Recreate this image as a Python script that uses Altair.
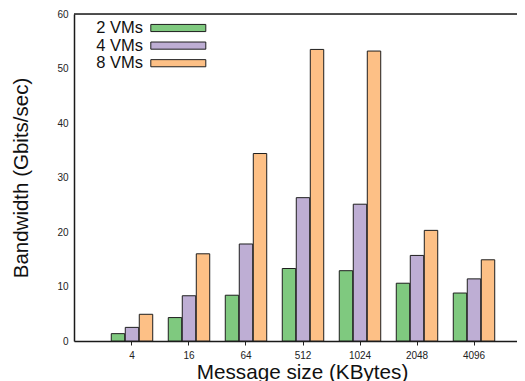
import altair as alt
import pandas as pd

sizes = ["4", "16", "64", "512", "1024", "2048", "4096"]
series = ["2 VMs", "4 VMs", "8 VMs"]
vm2 = [1.35, 4.3, 8.4, 13.3, 12.9, 10.6, 8.8]
vm4 = [2.5, 8.3, 17.8, 26.3, 25.1, 15.7, 11.4]
vm8 = [4.9, 16.0, 34.4, 53.5, 53.2, 20.3, 14.9]
colors = ["#7fc97f", "#beaed4", "#fdc086"]
y_top = [60]

rows = []
for s, vals in zip(series, [vm2, vm4, vm8]):
    for size, v in zip(sizes, vals):
        rows.append({"size": size, "series": s, "bw": v})
df = pd.DataFrame(rows)
legend_df = pd.DataFrame({"series": series})
top_df = pd.DataFrame({"bw": y_top})

FONT = "Liberation Sans"
W, H = 443, 327
color_scale = alt.Scale(domain=series, range=colors)
y_scale = alt.Scale(domain=[0, 60], nice=False)
x_scale = alt.Scale(range=[0, 458], paddingInner=0, paddingOuter=0.5175)

bars = alt.Chart(df).mark_bar(stroke="#1e1e1e", strokeWidth=1).encode(
    x=alt.X("size:N", sort=sizes, scale=x_scale,
            axis=alt.Axis(title="Message size (KBytes)", labelAngle=0,
                          labelFont=FONT, labelFontSize=10, labelColor="#222",
                          labelPadding=5, tickSize=4, tickColor="#222", tickWidth=1,
                          domainColor="#1a1a1a", domainWidth=1.5,
                          titleFont=FONT, titleFontSize=20.7, titleFontWeight="normal",
                          titleColor="#111", titleBaseline="alphabetic",
                          titleX=228, titleY=37, titleAlign="center")),
    xOffset=alt.XOffset("series:N", sort=series,
                        scale=alt.Scale(paddingInner=0.04, paddingOuter=0.555)),
    y=alt.Y("bw:Q", scale=y_scale,
            axis=alt.Axis(title="Bandwidth (Gbits/sec)", values=[0, 10, 20, 30, 40, 50, 60],
                          grid=False, ticks=False, labelPadding=6,
                          labelFont=FONT, labelFontSize=10, labelColor="#222",
                          domainColor="#1a1a1a", domainWidth=1.5,
                          titleFont=FONT, titleFontSize=20.5, titleFontWeight="normal",
                          titleColor="#111", titleAngle=270, titleBaseline="alphabetic",
                          titleAlign="center", titleX=-46.7, titleY=163.5)),
    color=alt.Color("series:N", sort=series, scale=color_scale, legend=None),
)

top = alt.Chart(top_df).mark_rect(color="#1a1a1a", height=1.6).encode(
    x=alt.value(0), x2=alt.value(W),
    y=alt.Y("bw:Q", scale=y_scale),
)

main = alt.layer(bars, top)

leg_y = alt.Y("series:N", sort=series,
              scale=alt.Scale(domain=series, range=[14, 49.2], padding=0),
              axis=None)

leg_sym = alt.Chart(legend_df).mark_point(
    shape="M-1,-0.13L1,-0.13L1,0.13L-1,0.13Z", size=3025, filled=True,
    stroke="#1e1e1e", strokeWidth=1, opacity=1
).encode(
    x=alt.value(104.3), y=leg_y,
    fill=alt.Fill("series:N", sort=series, scale=color_scale, legend=None),
)

leg_txt = alt.Chart(legend_df).mark_text(
    align="right", baseline="middle", font=FONT, fontSize=16.5, color="#111"
).encode(x=alt.value(69), y=leg_y, text="series:N")

legend = alt.layer(leg_sym, leg_txt)

chart = alt.layer(main, legend).resolve_scale(y="independent").properties(
    width=W, height=H,
    autosize=alt.AutoSizeParams(type="none"),
    padding={"left": 66, "top": 6, "right": 0, "bottom": 40},
).configure_view(stroke=None).configure(background="white")

chart.save("out.html", embed_options={"renderer": "svg", "actions": False})
